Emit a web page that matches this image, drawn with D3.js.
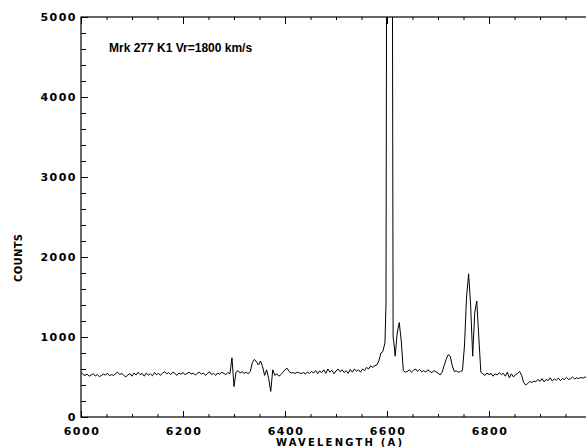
<!DOCTYPE html>
<html>
<head>
<meta charset="utf-8">
<script src="https://cdn.jsdelivr.net/npm/d3@7"></script>
<style>
	body { margin: 0; background: #fff; }
	.tick-label { font-family: "DejaVu Sans", sans-serif; font-weight: bold; font-size: 11px; letter-spacing: 1.5px; }
	.axis-title { font-family: "DejaVu Sans", sans-serif; font-weight: bold; font-size: 10px; }
	.title { font-family: "Liberation Sans", Arial, sans-serif; font-weight: bold; font-size: 12px; }
</style>
</head>
<body>
<svg class="chart"></svg>
<script>
// spectrum: [wavelength (A), counts]
var spectrum = [
	[6000,560],[6004,530],[6008,520],[6012,535],[6016,510],[6020,525],[6024,540],[6028,515],
	[6032,530],[6036,505],[6040,520],[6044,535],[6048,525],[6052,545],[6056,515],[6060,530],
	[6064,520],[6068,545],[6072,560],[6076,530],[6080,545],[6084,520],[6088,500],[6092,530],
	[6096,540],[6100,510],[6104,550],[6108,525],[6112,560],[6116,530],[6120,545],[6124,510],
	[6128,550],[6132,525],[6136,540],[6140,515],[6144,555],[6148,530],[6152,545],[6156,520],
	[6160,550],[6164,565],[6168,540],[6172,555],[6176,530],[6180,560],[6184,545],[6188,520],
	[6192,550],[6196,535],[6200,555],[6204,530],[6208,545],[6212,560],[6216,535],[6220,550],
	[6224,525],[6228,545],[6232,560],[6236,535],[6240,550],[6244,520],[6248,545],[6252,565],
	[6256,530],[6260,545],[6264,520],[6268,550],[6272,535],[6276,560],[6280,545],[6284,530],
	[6288,555],[6292,540],[6296,740],[6300,380],[6304,560],[6308,580],[6312,550],[6316,565],
	[6320,545],[6324,560],[6328,540],[6332,570],[6336,680],[6340,720],[6344,690],[6348,650],
	[6352,700],[6356,630],[6360,520],[6364,590],[6368,480],[6372,320],[6376,590],[6380,520],
	[6384,540],[6388,510],[6392,530],[6396,560],[6400,590],[6404,610],[6408,570],[6412,550],
	[6416,555],[6420,545],[6424,560],[6428,550],[6432,545],[6436,555],[6440,540],[6444,560],
	[6448,545],[6452,570],[6456,550],[6460,580],[6464,540],[6468,575],[6472,555],[6476,590],
	[6480,545],[6484,600],[6488,560],[6492,585],[6496,540],[6500,575],[6504,600],[6508,565],
	[6512,590],[6516,555],[6520,580],[6524,545],[6528,595],[6532,560],[6536,600],[6540,575],
	[6544,590],[6548,560],[6552,600],[6556,580],[6560,620],[6564,600],[6568,640],[6572,620],
	[6576,640],[6580,650],[6584,700],[6588,800],[6592,820],[6596,930],[6598,1400],[6600,8000],
	[6604,8500],[6608,8200],[6610,7500],[6612,1000],[6614,900],[6616,760],[6620,1050],[6624,1180],
	[6628,950],[6632,580],[6636,560],
	[6640,570],[6644,590],[6648,560],[6652,585],[6656,600],[6660,570],[6664,595],[6668,565],
	[6672,580],[6676,560],[6680,590],[6684,570],[6688,555],[6692,580],[6696,565],[6700,550],
	[6704,525],[6708,560],[6712,640],[6716,720],[6720,780],[6724,760],[6728,640],[6732,570],
	[6736,575],[6740,560],[6744,570],[6748,580],[6752,900],[6756,1500],[6760,1790],[6764,1400],
	[6768,760],[6772,1300],[6776,1450],[6780,1000],[6784,560],[6788,540],[6792,520],[6796,550],
	[6800,530],[6804,545],[6808,510],[6812,540],[6816,525],[6820,555],[6824,530],[6828,545],
	[6832,510],[6836,560],[6840,490],[6844,540],[6848,500],[6852,530],[6856,545],[6860,570],
	[6864,520],[6868,430],[6872,400],[6876,420],[6880,445],[6884,430],[6888,450],[6892,440],
	[6896,470],[6900,445],[6904,480],[6908,440],[6912,470],[6916,455],[6920,490],[6924,450],
	[6928,475],[6932,460],[6936,485],[6940,455],[6944,480],[6948,470],[6952,495],[6956,470],
	[6960,480],[6964,500],[6968,475],[6972,490],[6976,480],[6980,495],[6984,485],[6988,500],
	[6992,490],[6996,485],[7000,495]
];

var xMajor = [6000, 6200, 6400, 6600, 6800, 7000],
	xLabels = [6000, 6200, 6400, 6600, 6800],
	yMajor = [0, 1000, 2000, 3000, 4000, 5000];

var title = "Mrk 277 K1 Vr=1800 km/s",
	xTitle = "WAVELENGTH (A)",
	yTitle = "COUNTS";

var width = 586, height = 447;
var margin = {top: 17, left: 81, bottom: 30};
var plotW = 510,
	plotH = height - margin.top - margin.bottom;

var x = d3.scaleLinear().domain([6000, 7000]).range([0, plotW]);
var y = d3.scaleLinear().domain([0, 5000]).range([plotH, 0]);

var chart = d3.select(".chart")
	.attr("width", width)
	.attr("height", height);

chart.append("defs").append("clipPath")
	.attr("id", "plot-clip")
	.append("rect")
	.attr("width", plotW)
	.attr("height", plotH);

var g = chart.append("g")
	.attr("transform", "translate(" + margin.left + "," + margin.top + ")");

// inward ticks on all four sides, minor every 40 A / 200 counts
var xMinor = x.ticks(25), yMinor = y.ticks(25);

g.append("g")
	.attr("transform", "translate(0," + plotH + ")")
	.call(d3.axisTop(x).tickValues(xMinor).tickSize(3).tickFormat(""));
g.append("g")
	.attr("transform", "translate(0," + plotH + ")")
	.call(d3.axisTop(x).tickValues(xMajor).tickSize(6).tickFormat(""));
g.append("g")
	.call(d3.axisBottom(x).tickValues(xMinor).tickSize(3).tickFormat(""));
g.append("g")
	.call(d3.axisBottom(x).tickValues(xMajor).tickSize(7).tickFormat(""));
g.append("g")
	.call(d3.axisRight(y).tickValues(yMinor).tickSize(5).tickFormat(""));
g.append("g")
	.call(d3.axisRight(y).tickValues(yMajor).tickSize(7).tickFormat(""));
g.append("g")
	.attr("transform", "translate(" + plotW + ",0)")
	.call(d3.axisLeft(y).tickValues(yMinor).tickSize(5).tickFormat(""));

g.selectAll(".domain").remove();
g.selectAll(".tick line").attr("stroke", "#000");

g.append("rect")
	.attr("width", plotW)
	.attr("height", plotH)
	.attr("fill", "none")
	.attr("stroke", "#000")
	.attr("stroke-width", 1.2);

// tick labels
g.selectAll(".xlab")
	.data(xLabels)
	.enter().append("text")
	.attr("class", "tick-label")
	.attr("x", function(d) { return x(d) + 1; })
	.attr("y", plotH + 18)
	.style("text-anchor", "middle")
	.text(function(d) { return d; });

g.selectAll(".ylab")
	.data(yMajor)
	.enter().append("text")
	.attr("class", "tick-label")
	.attr("x", -4)
	.attr("y", function(d) { return y(d); })
	.attr("dy", ".35em")
	.style("text-anchor", "end")
	.text(function(d) { return d; });

var line = d3.line()
	.x(function(d) { return x(d[0]); })
	.y(function(d) { return y(d[1]); });

g.append("path")
	.datum(spectrum)
	.attr("clip-path", "url(#plot-clip)")
	.attr("fill", "none")
	.attr("stroke", "#000")
	.attr("stroke-width", 1)
	.attr("d", line);

g.append("text")
	.attr("class", "title")
	.attr("x", 28)
	.attr("y", 35)
	.text(title);

chart.append("text")
	.attr("class", "axis-title")
	.attr("x", 339)
	.attr("y", 446)
	.attr("textLength", 126)
	.attr("lengthAdjust", "spacing")
	.style("text-anchor", "middle")
	.text(xTitle);

chart.append("text")
	.attr("class", "axis-title")
	.attr("transform", "translate(22,258) rotate(-90)")
	.attr("textLength", 48)
	.attr("lengthAdjust", "spacing")
	.style("text-anchor", "middle")
	.text(yTitle);
</script>
</body>
</html>
